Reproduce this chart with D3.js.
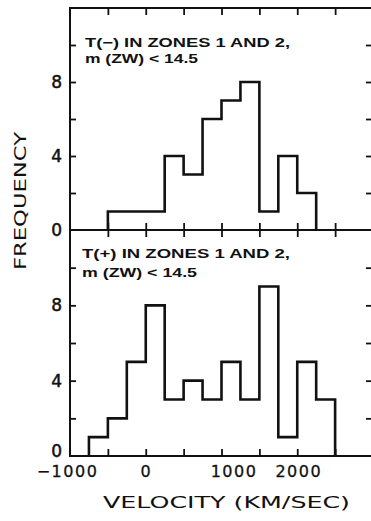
<!DOCTYPE html>
<html>
<head>
<meta charset="utf-8">
<script src="https://cdn.jsdelivr.net/npm/d3@7"></script>
<style>
  html, body { margin: 0; padding: 0; background: #fff; }
  svg { display: block; }
  text { fill: #111; }
</style>
</head>
<body>
<script>
// Velocity histograms (bins of 250 km/s), counts per bin
const binWidth = 250;
const topStart = -500;
const topCounts = [1, 1, 1, 4, 3, 6, 7, 8, 1, 4, 2];
const bottomStart = -750;
const bottomCounts = [1, 2, 5, 8, 3, 4, 3, 5, 3, 9, 1, 5, 3];

const xTickValues = [-500, 0, 500, 1000, 1500, 2000, 2500];
const xLabelValues = [-1000, 0, 1000, 2000];
const yTickValues = [2, 4, 6, 8, 10];
const yLabelValues = [0, 4, 8];

const topTitle = ["T(\u2212) IN ZONES 1 AND 2,", "m (ZW) < 14.5"];
const bottomTitle = ["T(+) IN ZONES 1 AND 2,", "m (ZW) < 14.5"];
const xTitle = "VELOCITY (KM/SEC)";
const yTitle = "FREQUENCY";

const W = 371, H = 521;
const svg = d3.select("body").append("svg").attr("width", W).attr("height", H);

const x = d3.scaleLinear().domain([-1000, 3000]).range([70, 373]);
const yTop = d3.scaleLinear().domain([0, 12]).range([230, 8]);
const yBot = d3.scaleLinear().domain([0, 12]).range([456, 230]);

const ink = "#111";

// step outline of a histogram
function stepPath(start, counts, y) {
  const p = d3.path();
  p.moveTo(x(start), y(0));
  counts.forEach((c, i) => {
    const x0 = x(start + i * binWidth), x1 = x(start + (i + 1) * binWidth);
    p.lineTo(x0, y(c));
    p.lineTo(x1, y(c));
  });
  p.lineTo(x(start + counts.length * binWidth), y(0));
  return p.toString();
}

function styleAxis(g) {
  g.select(".domain").remove();
  g.selectAll(".tick line").attr("stroke", ink).attr("stroke-width", 1.8);
}

function panel(y, counts, start, title, cap, zeroShift) {
  // left ticks + labels
  svg.append("g").attr("transform", `translate(${x(-1000)},0)`)
    .call(d3.axisLeft(y).tickValues(yTickValues).tickSizeInner(-6).tickSizeOuter(0).tickFormat(() => ""))
    .call(styleAxis);
  const lab = svg.append("g").attr("transform", `translate(${x(-1000)},0)`)
    .call(d3.axisLeft(y).tickValues(yLabelValues).tickSize(0).tickPadding(8).tickFormat(d3.format("d")))
    .call(g => g.select(".domain").remove());
  lab.selectAll("text")
    .attr("font-family", "'DejaVu Sans', sans-serif")
    .attr("font-size", 17)
    .attr("stroke", ink).attr("stroke-width", 0.5)
    .attr("fill", ink)
    .attr("dy", d => d === 0 ? (0.32 - zeroShift / 17) + "em" : "0.32em");
  // right ticks
  svg.append("g").attr("transform", `translate(${x(3000)},0)`)
    .call(d3.axisRight(y).tickValues(yTickValues).tickSizeInner(-7).tickSizeOuter(0).tickFormat(() => ""))
    .call(styleAxis);
  // bottom ticks pointing up into the panel
  svg.append("g").attr("transform", `translate(0,${y(0)})`)
    .call(d3.axisBottom(x).tickValues(xTickValues).tickSizeInner(-7).tickSizeOuter(0).tickFormat(() => ""))
    .call(styleAxis);
  // top ticks pointing down into the panel
  svg.append("g").attr("transform", `translate(0,${y(12)})`)
    .call(d3.axisTop(x).tickValues(xTickValues).tickSizeInner(-7).tickSizeOuter(0).tickFormat(() => ""))
    .call(styleAxis);

  // histogram
  svg.append("path")
    .attr("d", stepPath(start, counts, y))
    .attr("fill", "none")
    .attr("stroke", ink)
    .attr("stroke-width", 2.6)
    .attr("stroke-linejoin", "miter");

  // panel caption
  const t = svg.append("g")
    .attr("font-family", "'Liberation Sans', Arial, sans-serif")
    .attr("font-weight", "bold")
    .attr("font-size", 12.5);
  t.append("text").attr("x", cap.x).attr("y", cap.y1)
    .attr("textLength", cap.w1).attr("lengthAdjust", "spacingAndGlyphs").text(title[0]);
  t.append("text").attr("x", cap.x).attr("y", cap.y2)
    .attr("textLength", cap.w2).attr("lengthAdjust", "spacingAndGlyphs").text(title[1]);
}

panel(yTop, topCounts, topStart, topTitle, { x: 85, y1: 47, y2: 63, w1: 205, w2: 113 }, 0);
panel(yBot, bottomCounts, bottomStart, bottomTitle, { x: 82, y1: 258, y2: 277, w1: 208, w2: 115 }, 5);

// frame
svg.append("path")
  .attr("d", `M${x(3000)},${yTop(12)}H${x(-1000)}V${yBot(0)}H${x(3000)}M${x(-1000)},${yTop(0)}H${x(3000)}`)
  .attr("fill", "none").attr("stroke", ink).attr("stroke-width", 2);
svg.append("path")
  .attr("d", `M${x(3000)},${yTop(12)}V${yBot(0)}`)
  .attr("fill", "none").attr("stroke", ink).attr("stroke-width", 2);

// x labels
const nudge = { "-1000": -3, "0": 0, "1000": 12, "2000": 1 };
const xl = svg.append("g").attr("transform", `translate(0,${yBot(0)})`)
  .call(d3.axisBottom(x).tickValues(xLabelValues).tickSize(0).tickPadding(10)
    .tickFormat(d => d < 0 ? "\u2212" + Math.abs(d) : String(d)))
  .call(g => g.select(".domain").remove());
xl.selectAll("text")
  .attr("font-family", "'DejaVu Sans', sans-serif")
  .attr("font-size", 16)
  .attr("letter-spacing", 1.5)
  .attr("stroke", ink).attr("stroke-width", 0.3)
  .attr("fill", ink)
  .attr("dx", d => nudge[d]);

// axis titles
svg.append("text")
  .attr("x", 103).attr("y", 508)
  .attr("font-family", "'DejaVu Sans', sans-serif")
  .attr("font-size", 16)
  .attr("textLength", 247).attr("lengthAdjust", "spacingAndGlyphs")
  .text(xTitle);
svg.append("text")
  .attr("transform", "translate(26,270) rotate(-90)")
  .attr("font-family", "'DejaVu Sans', sans-serif")
  .attr("font-size", 16)
  .attr("textLength", 138).attr("lengthAdjust", "spacingAndGlyphs")
  .text(yTitle);
</script>
</body>
</html>
